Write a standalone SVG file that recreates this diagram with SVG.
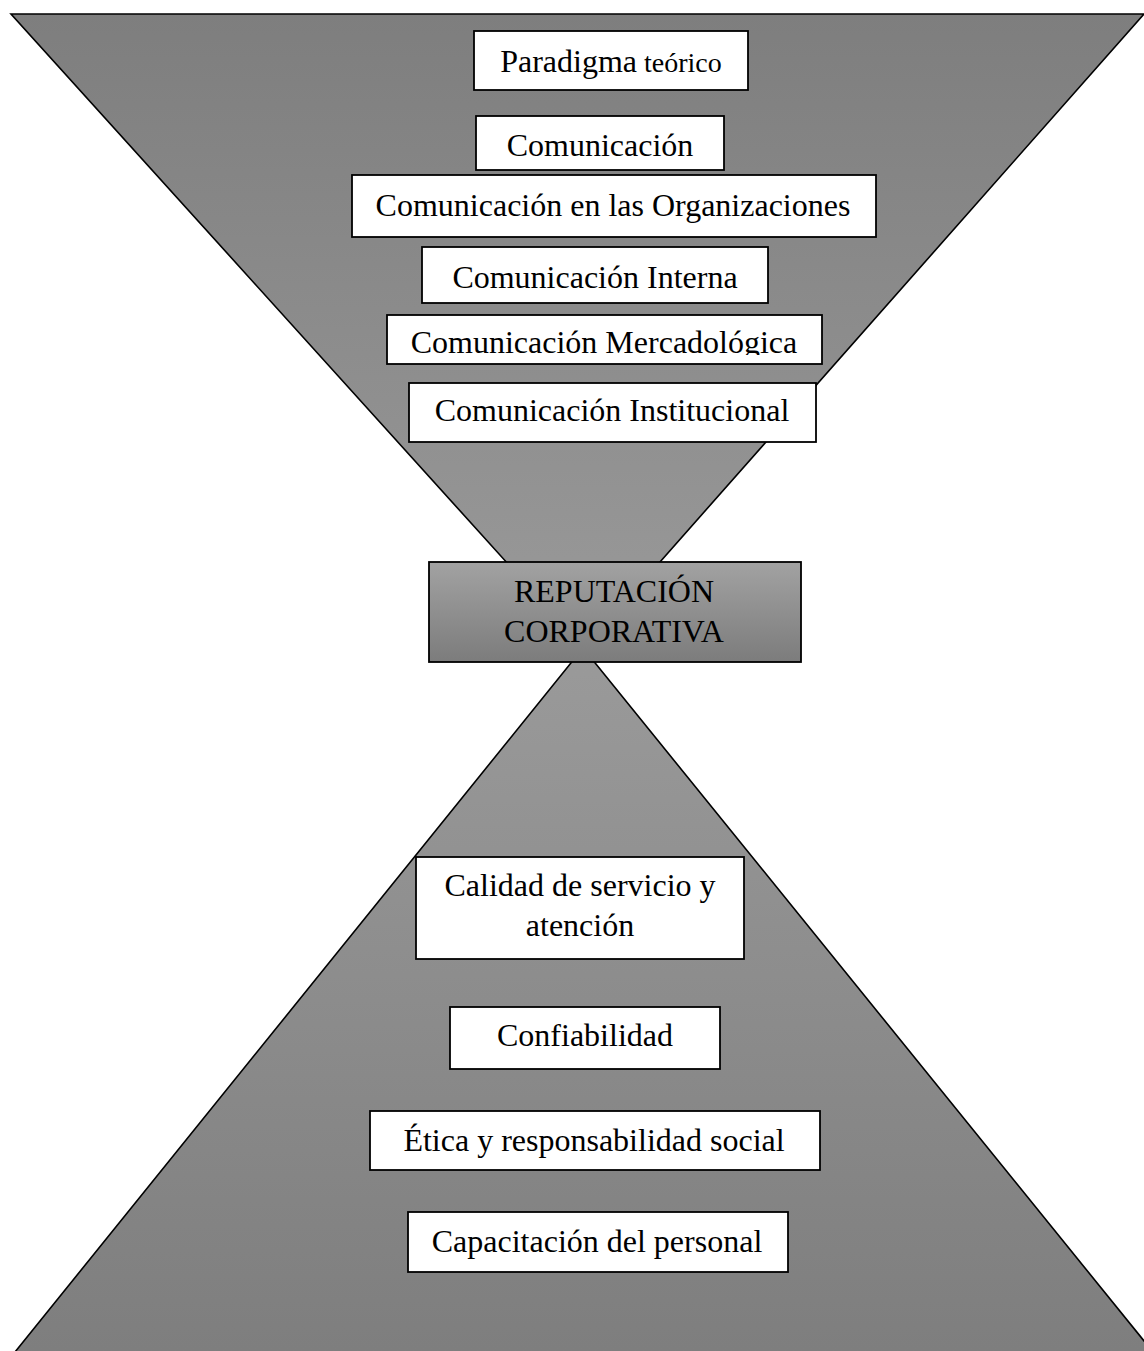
<svg xmlns="http://www.w3.org/2000/svg" width="1144" height="1351" viewBox="0 0 1144 1351">
  <style>
    .box { fill: #ffffff; stroke: #000000; stroke-width: 1.8; }
    .lbl { font-family: "Liberation Serif", "Times New Roman", serif; font-size: 32px; fill: #000000; text-anchor: middle; }
    .funnel { stroke: #000000; stroke-width: 1.6; stroke-linejoin: miter; }
  </style>
  <defs>
    <linearGradient id="gradTop" gradientUnits="userSpaceOnUse" x1="0" y1="14" x2="0" y2="648">
      <stop offset="0" stop-color="#7e7e7e"/>
      <stop offset="1" stop-color="#9a9a9a"/>
    </linearGradient>
    <linearGradient id="gradBottom" gradientUnits="userSpaceOnUse" x1="0" y1="648" x2="0" y2="1351">
      <stop offset="0" stop-color="#9a9a9a"/>
      <stop offset="1" stop-color="#7e7e7e"/>
    </linearGradient>
    <linearGradient id="gradCenter" x1="0" y1="0" x2="0" y2="1">
      <stop offset="0" stop-color="#a2a2a2"/>
      <stop offset="1" stop-color="#7c7c7c"/>
    </linearGradient>
    <clipPath id="clipMerc">
      <rect x="387" y="315" width="435" height="40"/>
    </clipPath>
  </defs>

  <rect x="0" y="0" width="1144" height="1351" fill="#ffffff"/>

  <!-- hourglass shapes behind the boxes -->
  <g id="connectors">
    <polygon class="funnel" fill="url(#gradTop)" points="11,14 1144,14 584,648"/>
    <polygon class="funnel" fill="url(#gradBottom)" points="583,648 1153,1352 15,1352"/>
  </g>

  <!-- upper funnel -->
  <g id="paradigma">
    <rect class="box" x="474" y="31" width="274" height="59"/>
    <text class="lbl" x="611" y="72">Paradigma<tspan font-size="28px"> teórico</tspan></text>
  </g>
  <g id="comunicacion">
    <rect class="box" x="476" y="116" width="248" height="54"/>
    <text class="lbl" x="600" y="156">Comunicación</text>
  </g>
  <g id="com-organizaciones">
    <rect class="box" x="352" y="175" width="524" height="62"/>
    <text class="lbl" x="613" y="216">Comunicación en las Organizaciones</text>
  </g>
  <g id="com-interna">
    <rect class="box" x="422" y="247" width="346" height="56"/>
    <text class="lbl" x="595" y="288">Comunicación Interna</text>
  </g>
  <g id="com-mercadologica">
    <rect class="box" x="387" y="315" width="435" height="49"/>
    <text class="lbl" x="604" y="353" clip-path="url(#clipMerc)">Comunicación Mercadológica</text>
  </g>
  <g id="com-institucional">
    <rect class="box" x="409" y="383" width="407" height="59"/>
    <text class="lbl" x="612" y="421">Comunicación Institucional</text>
  </g>

  <!-- centre -->
  <g id="reputacion">
    <rect x="429" y="562" width="372" height="100" fill="url(#gradCenter)" stroke="#000000" stroke-width="1.8"/>
    <text class="lbl" x="614" y="602">REPUTACIÓN</text>
    <text class="lbl" x="614" y="642">CORPORATIVA</text>
  </g>

  <!-- lower funnel -->
  <g id="calidad">
    <rect class="box" x="416" y="857" width="328" height="102"/>
    <text class="lbl" x="580" y="896">Calidad de servicio y</text>
    <text class="lbl" x="580" y="936">atención</text>
  </g>
  <g id="confiabilidad">
    <rect class="box" x="450" y="1007" width="270" height="62"/>
    <text class="lbl" x="585" y="1046">Confiabilidad</text>
  </g>
  <g id="etica">
    <rect class="box" x="370" y="1111" width="450" height="59"/>
    <text class="lbl" x="594" y="1151">Ética y responsabilidad social</text>
  </g>
  <g id="capacitacion">
    <rect class="box" x="408" y="1212" width="380" height="60"/>
    <text class="lbl" x="597" y="1252">Capacitación del personal</text>
  </g>
</svg>
